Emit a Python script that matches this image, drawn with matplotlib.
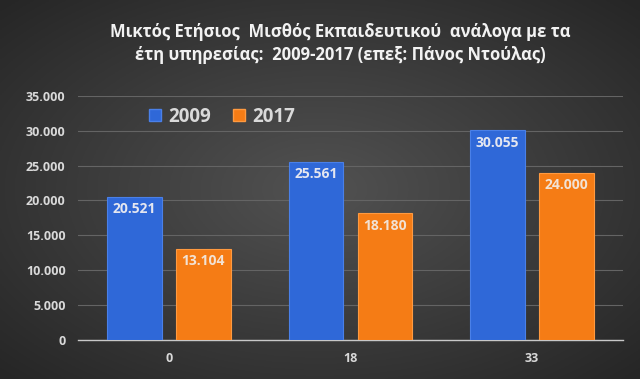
import numpy as np
import matplotlib.pyplot as plt
from matplotlib.patches import Patch

years = ["0", "18", "33"]
series_2009 = [20521, 25561, 30055]
series_2017 = [13104, 18180, 24000]
labels_2009 = ["20.521", "25.561", "30.055"]
labels_2017 = ["13.104", "18.180", "24.000"]
yticks = [0, 5000, 10000, 15000, 20000, 25000, 30000, 35000]
ytick_labels = ["0", "5.000", "10.000", "15.000", "20.000", "25.000", "30.000", "35.000"]

title = "Μικτός Ετήσιος  Μισθός Εκπαιδευτικού  ανάλογα με τα\nέτη υπηρεσίας:  2009-2017 (επεξ: Πάνος Ντούλας)"

plt.rcParams["font.family"] = ["Open Sans", "DejaVu Sans"]
txt_col = "#d9d9d9"

fig = plt.figure(figsize=(6.4, 3.79), dpi=100)

# dark radial background, lighter in the middle
bg = fig.add_axes([0, 0, 1, 1], zorder=0)
yy, xx = np.mgrid[0:1:200j, 0:1:300j]
r = np.sqrt(((xx - 0.5) / 0.7) ** 2 + ((yy - 0.5) / 0.7) ** 2)
shade = 0.32 - 0.17 * np.clip(r, 0, 1)
bg.imshow(np.dstack([shade, shade, shade]), extent=[0, 1, 0, 1], aspect="auto")
bg.axis("off")

ax = fig.add_axes([0.122, 0.103, 0.851, 0.644], zorder=1)
ax.patch.set_alpha(0)

x = np.arange(len(years))
w = 0.3
off = 0.19
b1 = ax.bar(x - off, series_2009, w, color="#2F68D8", edgecolor="#4a80e8", linewidth=0.8, zorder=3)
b2 = ax.bar(x + off, series_2017, w, color="#F57C15", edgecolor="#ff9a40", linewidth=0.8, zorder=3)

for rect, lab in zip(b1, labels_2009):
    ax.text(rect.get_x() + rect.get_width() / 2, rect.get_height() - 1800, lab,
            ha="center", va="center", color="#e4e6f0", fontsize=10, fontweight="bold", zorder=4)
for rect, lab in zip(b2, labels_2017):
    ax.text(rect.get_x() + rect.get_width() / 2, rect.get_height() - 1800, lab,
            ha="center", va="center", color="#f2e2d4", fontsize=10, fontweight="bold", zorder=4)

ax.set_xlim(-0.5, 2.5)
ax.set_ylim(0, 35000)
ax.set_yticks(yticks)
ax.set_yticklabels(ytick_labels)
ax.set_xticks(x)
ax.set_xticklabels(years)
ax.tick_params(length=0, colors=txt_col, labelsize=9, pad=9)
for t in ax.get_xticklabels() + ax.get_yticklabels():
    t.set_fontweight("bold")
ax.yaxis.grid(True, color="#646464", linewidth=0.8, zorder=0)
ax.set_axisbelow(True)
for s in ["top", "right", "left"]:
    ax.spines[s].set_visible(False)
ax.spines["bottom"].set_color("#c8c8c8")
ax.spines["bottom"].set_linewidth(1)

handles = [Patch(facecolor="#2F68D8", edgecolor="#4a80e8"),
           Patch(facecolor="#F57C15", edgecolor="#ff9a40")]
leg = ax.legend(handles, ["2009", "2017"], loc="center left", bbox_to_anchor=(0.1, 0.915),
                ncol=2, frameon=False, prop={"size": 13.5, "weight": "bold"},
                handlelength=0.6, handleheight=0.6, handletextpad=0.4, columnspacing=1.2)
for t in leg.get_texts():
    t.set_color(txt_col)

fig.text(0.532, 0.885, title, ha="center", va="center", color="#f2f2f2",
         fontsize=12, fontweight="bold", linespacing=1.3)

fig.savefig("out.png", dpi=100)
